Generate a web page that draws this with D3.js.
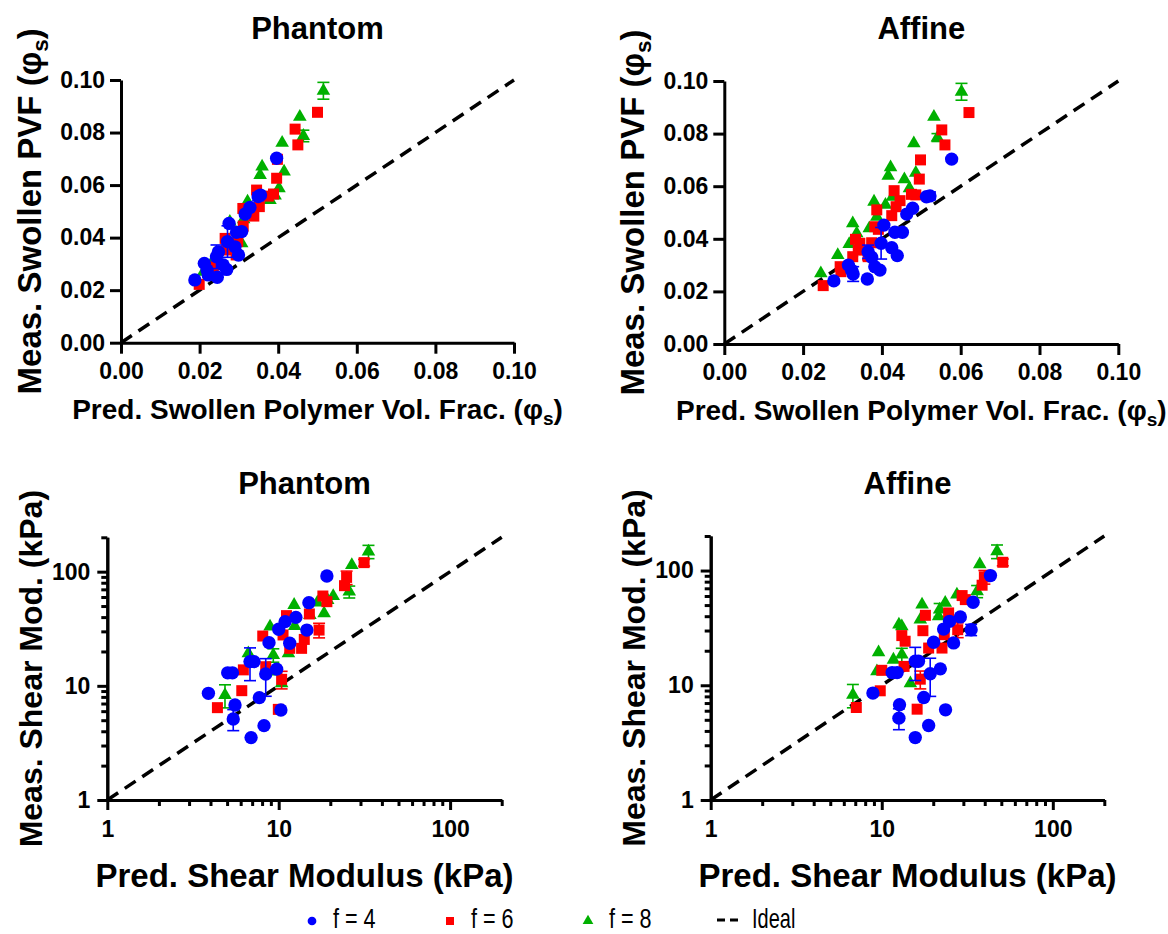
<!DOCTYPE html>
<html>
<head>
<meta charset="utf-8">
<script src="https://cdn.jsdelivr.net/npm/d3@7"></script>
<style>
  body { margin: 0; background: #fff; }
  svg { font-family: "Liberation Sans", Arial, sans-serif; }
</style>
</head>
<body>
<svg width="1168" height="934"></svg>
<script>
// ---- data: [x, y, yErr] ----
var seriesNames = ["f = 4", "f = 6", "f = 8"]
var seriesColors = ["#0000ff", "#ff0000", "#00b000"]

var pvfTicks = [0, 0.02, 0.04, 0.06, 0.08, 0.10]
var modMajorTicks = [1, 10, 100]
var modMinorTicks = [2, 3, 4, 5, 6, 7, 8, 9, 20, 30, 40, 50, 60, 70, 80, 90, 200]

// top left: Phantom, swollen polymer volume fraction
var pvfPhantomF4 = [[0.0396,0.0702],[0.0355,0.0562],[0.0349,0.0556,0.0015],[0.0328,0.0515],[0.0316,0.0490],
  [0.0307,0.0423],[0.0294,0.0420],[0.0275,0.0454],[0.0271,0.0385,0.0060],[0.0290,0.0365],[0.0299,0.0334],
  [0.0248,0.0346],[0.0243,0.0327,0.0045],[0.0260,0.0296],[0.0269,0.0279],[0.0212,0.0302],[0.0219,0.0277],
  [0.0222,0.0258],[0.0245,0.0249],[0.0188,0.0239]]
var pvfPhantomF6 = [[0.0500,0.0877],[0.0443,0.0813],[0.0450,0.0753],[0.0398,0.0698],[0.0396,0.0626],
  [0.0345,0.0581],[0.0388,0.0566],[0.0375,0.0558],[0.0352,0.0518],[0.0310,0.0511],[0.0338,0.0482],
  [0.0311,0.0444],[0.0265,0.0397],[0.0297,0.0385],[0.0293,0.0334],[0.0269,0.0353],[0.0235,0.0289],
  [0.0226,0.0266],[0.0199,0.0222]]
var pvfPhantomF8 = [[0.0515,0.0959,0.0032],[0.0455,0.0860],[0.0464,0.0787,0.0022],[0.0410,0.0761],
  [0.0359,0.0670],[0.0354,0.0638],[0.0415,0.0651],[0.0402,0.0588],[0.0392,0.0560],[0.0379,0.0543],
  [0.0322,0.0537],[0.0312,0.0470],[0.0277,0.0460],[0.0307,0.0378],[0.0235,0.0315],[0.0210,0.0270]]

// top right: Affine, swollen polymer volume fraction
var pvfAffineF4 = [[0.0577,0.0703],[0.0522,0.0563,0.0015],[0.0513,0.0560],[0.0478,0.0516],[0.0463,0.0494],
  [0.0405,0.0452],[0.0433,0.0425],[0.0452,0.0425],[0.0398,0.0383,0.0060],[0.0425,0.0366],[0.0439,0.0336],
  [0.0365,0.0351,0.0025],[0.0374,0.0330],[0.0315,0.0300],[0.0323,0.0281],[0.0327,0.0266,0.0028],
  [0.0382,0.0294],[0.0395,0.0281],[0.0363,0.0247],[0.0278,0.0240]]
var pvfAffineF6 = [[0.0621,0.0880],[0.0552,0.0814],[0.0560,0.0757],[0.0498,0.0700],[0.0495,0.0627],
  [0.0431,0.0583],[0.0475,0.0569],[0.0486,0.0567],[0.0446,0.0545],[0.0436,0.0522],[0.0425,0.0488],
  [0.0387,0.0510],[0.0382,0.0446],[0.0391,0.0436],[0.0333,0.0398],[0.0344,0.0383],[0.0340,0.0357],
  [0.0374,0.0385],[0.0365,0.0332,0.0012],[0.0326,0.0332],[0.0294,0.0294],[0.0296,0.0275],[0.0251,0.0222]]
var pvfAffineF8 = [[0.0602,0.0959,0.0032],[0.0532,0.0864],[0.0541,0.0785,0.0015],[0.0481,0.0763],
  [0.0422,0.0672],[0.0416,0.0639],[0.0486,0.0651],[0.0457,0.0626],[0.0470,0.0592],[0.0427,0.0560],
  [0.0380,0.0541],[0.0409,0.0529],[0.0387,0.0484],[0.0326,0.0459],[0.0368,0.0440],[0.0336,0.0421],
  [0.0317,0.0380],[0.0288,0.0338],[0.0245,0.0269]]

// bottom left: Phantom, shear modulus (kPa)
var modPhantomF4 = [[19.1,91.6],[15.0,53.5],[12.6,39.8],[10.9,36.5],[10.0,31.3],[14.6,30.8],[8.78,23.9],
  [11.6,23.6],[6.8,16.3,5.2],[7.18,16.3],[9.73,14.0],[8.4,12.7,4.6],[5.04,13.0],[5.37,13.0],[3.89,8.6],
  [7.71,7.88],[5.56,6.79],[10.3,6.14],[5.43,5.12,1.07],[8.21,4.48],[6.9,3.52]]
var modPhantomF6 = [[31.5,120,8],[24.9,89.1,12],[24.2,75.4],[18.1,61.2],[19.1,54.6],[15.1,42.6],[11.1,41.2],
  [10.6,27.9],[17.2,30.8,4.5],[8.07,27.3],[14.1,25.5],[13.6,21.3],[11.6,21.3],[8.4,14.7],[6.22,13.8],
  [10.4,11.4,2],[6.09,9.07],[9.95,6.22],[4.39,6.44]]
var modPhantomF8 = [[33.4,150,20],[26.7,114],[25.8,66.8,8],[20.8,61.2],[19.3,56.5],[18.4,43.2],[16.8,53.5],
  [12.3,51.1],[15.2,41.7],[12.4,33.4],[8.9,33.0],[11.4,19.3],[9.3,18.6,2.5],[6.65,19.3],[9.3,13.3],
  [4.86,8.31,1.9],[10.4,10.5]]

// bottom right: Affine, shear modulus (kPa)
var modAffineF4 = [[43.2,90.4],[34.2,52.9],[28.8,39.4],[24.9,36.1],[23.0,30.9],[33.3,30.5,3.4],[20.1,23.7],
  [26.3,23.4],[15.7,16.2,5.2],[16.4,16.2],[22.0,13.9],[19.2,12.6,4.6],[11.5,12.9],[12.3,12.9],[8.88,8.55],
  [17.6,7.83],[12.7,6.76],[23.6,6.11],[12.6,5.17,1.07],[18.8,4.46],[15.7,3.5]]
var modAffineF6 = [[51,118,8],[39.8,88.1,12],[38.6,74.5],[29.5,60.5],[30.8,55.8],[24.6,42.7],[18.0,40.7],
  [17.4,29.9],[27.8,30.5,4.5],[13.1,27.1],[23.2,27.6],[22.5,21.1],[18.8,21.1],[13.7,24.2],[13.5,14.6],
  [10.0,13.5],[16.8,11.3,2],[9.8,8.95],[16.1,6.19],[7.1,6.4]]
var modAffineF8 = [[47.2,147,20],[37.4,113],[36.1,66,8],[27.5,61.7],[23.5,52.2],[21.8,45.6,6],[17.2,50.5],
  [12.6,33.8],[13.1,32.7],[16.8,37.3],[21.5,39.9],[9.58,19.4],[11.7,16.7],[13.1,18.5,2.5],[9.37,13.2],
  [14.7,10.4],[6.78,8.26,1.9]]

var svg = d3.select("svg")
var symbols = [d3.symbolCircle, d3.symbolSquare, d3.symbolTriangle]
var symbolSizes = [140, 121, 80]

function label(sel, main, tail) {
  // text with a subscript "s" inside the parentheses
  sel.append("tspan").text(main)
  if (tail) {
    sel.append("tspan").attr("font-size", "0.68em").attr("dy", "0.3em").text("s")
    sel.append("tspan").attr("dy", "-0.21em").text(tail)
  }
}

function drawPanel(p) {
  var x, y, lo, hi
  if (p.log) {
    lo = 1; hi = 200
    x = d3.scaleLog().domain([lo, hi]).range([p.left, p.right])
    y = d3.scaleLog().domain([lo, hi]).range([p.bottom, p.top])
  } else {
    lo = 0; hi = 0.1
    x = d3.scaleLinear().domain([lo, hi]).range([p.left, p.right])
    y = d3.scaleLinear().domain([lo, hi]).range([p.bottom, p.top])
  }
  var g = svg.append("g")

  // ideal line
  g.append("line")
    .attr("x1", x(lo)).attr("y1", y(lo)).attr("x2", x(hi)).attr("y2", y(hi))
    .attr("stroke", "#000").attr("stroke-width", 3.5).attr("stroke-dasharray", "13,8")

  // series, f = 8 first so blue ends on top
  for (var i = 2; i >= 0; i--) {
    var data = p.series[i], col = seriesColors[i]
    var withErr = data.filter(function(d) { return d[2] })
    var eb = g.append("g").attr("stroke", col).attr("stroke-width", 1.6)
    withErr.forEach(function(d) {
      var ya = y(d[1] + d[2]), yb = y(Math.max(d[1] - d[2], p.log ? 1 : 0)), xc = x(d[0])
      eb.append("line").attr("x1", xc).attr("x2", xc).attr("y1", ya).attr("y2", yb)
      eb.append("line").attr("x1", xc - 6).attr("x2", xc + 6).attr("y1", ya).attr("y2", ya)
      eb.append("line").attr("x1", xc - 6).attr("x2", xc + 6).attr("y1", yb).attr("y2", yb)
    })
    g.selectAll(null).data(data).enter().append("path")
      .attr("d", d3.symbol().type(symbols[i]).size(symbolSizes[i]))
      .attr("transform", function(d) { return "translate(" + x(d[0]) + "," + y(d[1]) + ")" })
      .attr("fill", col)
  }

  // axes
  var xAxis, yAxis
  if (p.log) {
    xAxis = d3.axisBottom(x).tickValues(modMajorTicks).tickFormat(d3.format("d")).tickSize(10).tickPadding(11).tickSizeOuter(0)
    yAxis = d3.axisLeft(y).tickValues(modMajorTicks).tickFormat(d3.format("d")).tickSize(10).tickPadding(7).tickSizeOuter(0)
  } else {
    xAxis = d3.axisBottom(x).tickValues(pvfTicks).tickFormat(d3.format(".2f")).tickSize(11).tickPadding(9).tickSizeOuter(0)
    yAxis = d3.axisLeft(y).tickValues(pvfTicks).tickFormat(d3.format(".2f")).tickSize(11).tickPadding(5).tickSizeOuter(0)
  }
  var ax = [
    g.append("g").attr("transform", "translate(0," + p.bottom + ")").call(xAxis),
    g.append("g").attr("transform", "translate(" + p.left + ",0)").call(yAxis)
  ]
  if (p.log) {
    ax.push(g.append("g").attr("transform", "translate(0," + p.bottom + ")")
      .call(d3.axisBottom(x).tickValues(modMinorTicks).tickFormat("").tickSize(6).tickSizeOuter(0)))
    ax.push(g.append("g").attr("transform", "translate(" + p.left + ",0)")
      .call(d3.axisLeft(y).tickValues(modMinorTicks).tickFormat("").tickSize(6).tickSizeOuter(0)))
  }
  ax.forEach(function(a) {
    a.select(".domain").attr("stroke", "#000").attr("stroke-width", 3)
    a.selectAll(".tick line").attr("stroke", "#000").attr("stroke-width", 3)
    a.selectAll(".tick text").attr("fill", "#000").attr("font-size", 23)
      .attr("font-weight", "bold").attr("font-family", "Liberation Sans, Arial, sans-serif")
  })

  var cx = (p.left + p.right) / 2, cy = (p.top + p.bottom) / 2

  g.append("text").attr("x", cx).attr("y", p.titleY).attr("text-anchor", "middle")
    .attr("font-size", 31).attr("font-weight", "bold").text(p.title)

  g.append("text").attr("x", cx).attr("y", p.xLabelY).attr("text-anchor", "middle")
    .attr("font-size", p.xLabelSize).attr("font-weight", "bold")
    .call(label, p.xLabel, p.xTail)

  g.append("text").attr("transform", "translate(" + p.yLabelX + "," + cy + ") rotate(-90)")
    .attr("text-anchor", "middle").attr("font-size", p.yLabelSize).attr("font-weight", "bold")
    .call(label, p.yLabel, p.yTail)
}

drawPanel({ left: 121, right: 514, top: 80, bottom: 342.7, log: false,
  series: [pvfPhantomF4, pvfPhantomF6, pvfPhantomF8], title: "Phantom", titleY: 39,
  xLabel: "Pred. Swollen Polymer Vol. Frac. (φ", xTail: ")", xLabelY: 419, xLabelSize: 28,
  yLabel: "Meas. Swollen PVF (φ", yTail: ")", yLabelX: 41, yLabelSize: 33 })

drawPanel({ left: 724.3, right: 1118.3, top: 81, bottom: 344, log: false,
  series: [pvfAffineF4, pvfAffineF6, pvfAffineF8], title: "Affine", titleY: 39,
  xLabel: "Pred. Swollen Polymer Vol. Frac. (φ", xTail: ")", xLabelY: 420, xLabelSize: 28,
  yLabel: "Meas. Swollen PVF (φ", yTail: ")", yLabelX: 644, yLabelSize: 33 })

drawPanel({ left: 107.3, right: 501.7, top: 537.3, bottom: 800, log: true,
  series: [modPhantomF4, modPhantomF6, modPhantomF8], title: "Phantom", titleY: 494,
  xLabel: "Pred. Shear Modulus (kPa)", xLabelY: 887, xLabelSize: 33,
  yLabel: "Meas. Shear Mod. (kPa)", yLabelX: 42, yLabelSize: 32 })

drawPanel({ left: 710.7, right: 1104.3, top: 536, bottom: 800, log: true,
  series: [modAffineF4, modAffineF6, modAffineF8], title: "Affine", titleY: 494,
  xLabel: "Pred. Shear Modulus (kPa)", xLabelY: 887, xLabelSize: 33,
  yLabel: "Meas. Shear Mod. (kPa)", yLabelX: 645, yLabelSize: 32 })

// legend
var legendX = [312, 450, 588]
var legendSym = [60, 64, 50]
var legend = svg.append("g")
seriesNames.forEach(function(name, i) {
  legend.append("path")
    .attr("d", d3.symbol().type(symbols[i]).size(legendSym[i]))
    .attr("transform", "translate(" + legendX[i] + ",921)")
    .attr("fill", seriesColors[i])
  legend.append("text")
    .attr("transform", "translate(" + (legendX[i] + 21) + ",928) scale(0.8,1)")
    .attr("font-size", 27).text(name)
})
legend.append("line").attr("x1", 717).attr("x2", 738).attr("y1", 920).attr("y2", 920)
  .attr("stroke", "#000").attr("stroke-width", 3).attr("stroke-dasharray", "8,5")
legend.append("text").attr("transform", "translate(752,928) scale(0.74,1)")
  .attr("font-size", 27).text("Ideal")
</script>
</body>
</html>
